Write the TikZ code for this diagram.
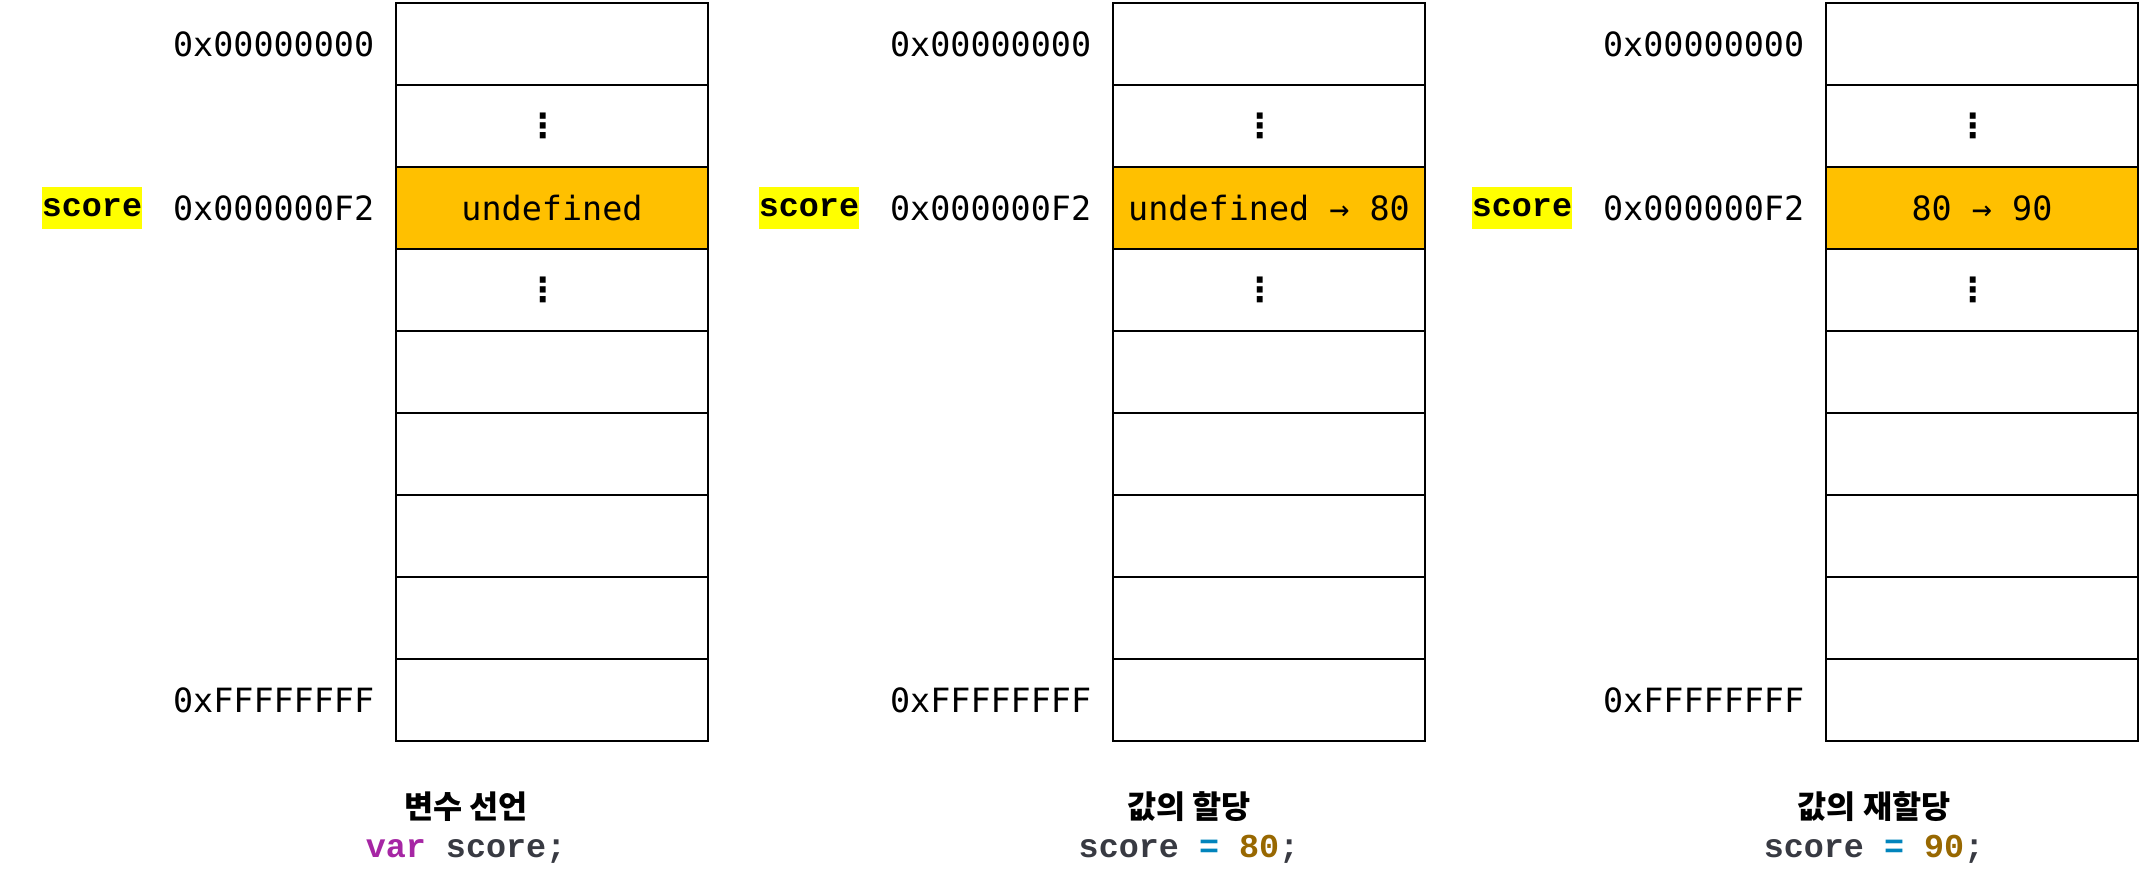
\documentclass[tikz,border=0pt]{standalone}
\usepackage{fontspec}
\usetikzlibrary{positioning}
\newfontfamily\addrfont{DejaVu Sans Mono}
\newfontfamily\codefont{Liberation Mono}
\newfontfamily\dotfont{DejaVu Sans}
\newfontfamily\krfont{Noto Sans CJK KR}
\definecolor{cellfill}{HTML}{FFC000}
\definecolor{marker}{HTML}{FFFF00}
\definecolor{kwpurple}{HTML}{A626A4}
\definecolor{idgray}{HTML}{383A42}
\definecolor{opblue}{HTML}{0184BC}
\definecolor{numbrown}{HTML}{986801}
\tikzset{
  cell/.style={draw, line width=0.6pt, minimum width=3.12cm, minimum height=0.82cm,
    inner sep=0pt, outer sep=0pt, font=\addrfont\fontsize{9.5}{11}\selectfont},
  usedcell/.style={cell, fill=cellfill},
  dots/.style={inner sep=0pt, xshift=-0.09cm, font=\dotfont\bfseries\fontsize{9.5}{11}\selectfont},
  addr/.style={inner sep=0pt, font=\addrfont\fontsize{9.5}{11}\selectfont},
  varname/.style={fill=marker, inner xsep=0pt, inner ysep=0pt, minimum height=0.41cm,
    font=\codefont\bfseries\fontsize{9.5}{11}\selectfont},
  captitle/.style={inner sep=0pt, anchor=base, font=\krfont\bfseries\fontsize{9}{11}\selectfont},
  capcode/.style={inner sep=0pt, anchor=base, text=idgray, font=\codefont\bfseries\fontsize{9.5}{11}\selectfont},
}
\begin{document}
\begin{tikzpicture}[x=0.01cm, y=-0.01cm]
  \useasboundingbox (0,0) rectangle (2139,885);
  \foreach \c/\cx/\tx/\val/\cap/\code in {
      1/552/466/{undefined}/{변수 선언}/{\textcolor{kwpurple}{var} score;},
      2/1269/1189/{undefined → 80}/{값의 할당}/{score \textcolor{opblue}{=} \textcolor{numbrown}{80};},
      3/1982/1874/{80 → 90}/{값의 재할당}/{score \textcolor{opblue}{=} \textcolor{numbrown}{90};}} {
    \foreach \r in {0,1,3,4,5,6,7,8}
      \node[cell] (m\c-\r) at (\cx,{44+82*\r}) {};
    \node[usedcell] (m\c-2) at (\cx,208) {\val};
    \node[dots] (d\c-1) at (m\c-1) {⋮};
    \node[dots] (d\c-3) at (m\c-3) {⋮};
    \node[addr, left=0.21cm of m\c-0] (a\c-0) {0x00000000};
    \node[addr, left=0.21cm of m\c-2] (a\c-2) {0x000000F2};
    \node[addr, left=0.21cm of m\c-8] (a\c-8) {0xFFFFFFFF};
    \node[varname, left=2.53cm of m\c-2] (s\c) {score};
    \node[captitle] (t\c) at (\tx,818) {\cap};
    \node[capcode] (k\c) at (\tx,857) {\code};
  }
\end{tikzpicture}
\end{document}
